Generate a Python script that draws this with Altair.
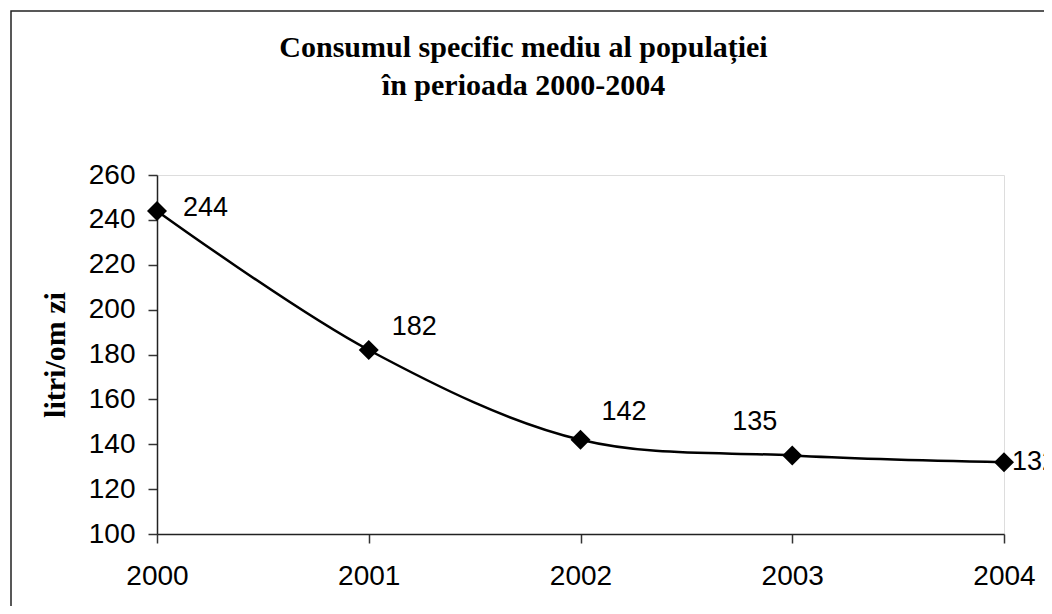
import altair as alt
import pandas as pd

years = [2000, 2001, 2002, 2003, 2004]
values = [244, 182, 142, 135, 132]
y_ticks = [100, 120, 140, 160, 180, 200, 220, 240, 260]

# label placement offsets (px) relative to each marker: (dx, dy)
label_offsets = {2000: (26, -3), 2001: (23, -23), 2002: (21, -28), 2003: (-60, -33), 2004: (8, 0)}

df = pd.DataFrame({"an": years, "valoare": values})

W, H = 847, 359
PAD = {"left": 149, "top": 167, "right": 40, "bottom": 72}

x_enc = alt.X("an:Q", scale=alt.Scale(domain=[2000, 2004], nice=False, zero=False),
              axis=alt.Axis(values=years, format="d", title=None, grid=False,
                            labelFont="Liberation Sans", labelFontSize=28, labelColor="black",
                            labelPadding=19, tickSize=9, tickColor="#333333", tickWidth=1.5,
                            domainColor="#222222", domainWidth=1.5, labelFlush=False))
y_enc = alt.Y("valoare:Q", scale=alt.Scale(domain=[100, 260], nice=False, zero=False),
              axis=alt.Axis(values=y_ticks, title="litri/om zi", grid=False,
                            labelFont="Liberation Sans", labelFontSize=28, labelColor="black",
                            labelPadding=13, tickSize=9, tickColor="#333333", tickWidth=1.5,
                            domainColor="#222222", domainWidth=1.5,
                            titleFont="Liberation Serif", titleFontSize=30, titleFontWeight="bold",
                            titleColor="black", titleAngle=-90, titleX=-93, titleY=H / 2,
                            titleAlign="center", titleBaseline="alphabetic"))

frame = alt.Chart(pd.DataFrame({"f": [0]})).mark_rect(
    fill="transparent", stroke="#222222", strokeWidth=1.5
).encode(
    x=alt.value(11 - 157), x2=alt.value(1120 - 157),
    y=alt.value(11 - 175), y2=alt.value(700 - 175)
)

base = alt.Chart(df)
line = base.mark_line(color="black", strokeWidth=2.5, interpolate="catmull-rom").encode(x=x_enc, y=y_enc)
points = base.mark_point(shape="diamond", filled=True, color="black", size=400, opacity=1).encode(
    x="an:Q", y="valoare:Q")

labels = []
for yr in years:
    dx, dy = label_offsets[yr]
    labels.append(
        base.transform_filter(alt.datum.an == yr).mark_text(
            align="left", baseline="middle", dx=dx, dy=dy,
            font="Liberation Sans", fontSize=27, color="black"
        ).encode(x="an:Q", y="valoare:Q", text="valoare:Q")
    )

chart = alt.layer(frame, line, points, *labels).properties(
    width=W, height=H,
    padding=PAD,
    autosize=alt.AutoSizeParams(type="none"),
    title=alt.TitleParams(
        ["Consumul specific mediu al populației", "în perioada 2000-2004"],
        font="Liberation Serif", fontSize=30, fontWeight="bold", color="black",
        lineHeight=38, anchor="middle", dx=-57, offset=-121, baseline="bottom"
    ),
).configure_view(stroke="#808080", strokeWidth=1.5).configure(background="white")

chart.save("out.html", embed_options={"renderer": "svg", "actions": False})
